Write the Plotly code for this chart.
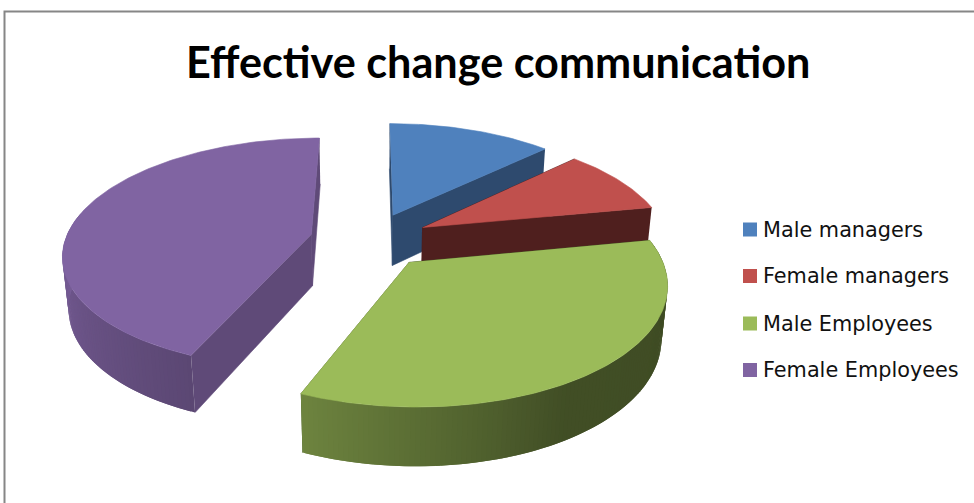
import numpy as np
import plotly.graph_objects as go

# Chart content
title_text = "Effective change communication"
categories = ["Male managers", "Female managers", "Male Employees", "Female Employees"]
values = [12.8, 9.2, 34.3, 43.7]
explosion = 0.245

# Colours per slice
top_colors = ["#4F81BD", "#C0504D", "#9BBB59", "#8064A2"]
cut_colors = ["#2E4A6E", "#4F1F1E", "#4A5A2A", "#5F4A78"]

# 3D pie projection settings, all in screen pixels
cx, cy = 370.0, 240.0
fx, fy = 246.0, 113.6
persp = 0.16
floor_persp = 0.02
thickness = 52.5

legend_x_swatch = 750
legend_x_text = 763
legend_rows = [229.5, 276, 323.5, 370]


def project(u, v, bottom=False):
    """Perspective projection of a point on the pie's top or bottom plane."""
    den = 1 + persp * v + (floor_persp if bottom else 0)
    x = cx + fx * u / den
    y = cy - (fy * v - (thickness if bottom else 0)) / den
    return x, y


def rim_factor(theta):
    """Brightness of the outer wall for a given clockwise angle from the back."""
    return np.interp(theta, [90, 150, 205, 270, 360], [0.40, 0.42, 0.72, 0.93, 0.93])


def shade(hex_color, factor):
    rgb = [int(hex_color[i:i + 2], 16) for i in (1, 3, 5)]
    return "rgb({},{},{})".format(*[round(c * factor) for c in rgb])


def polygon(xs, ys, color, edge=0.6):
    return go.Scatter(
        x=list(xs), y=list(ys), mode="lines", fill="toself", fillcolor=color,
        line=dict(color=color, width=edge), hoverinfo="skip", showlegend=False,
    )


fig = go.Figure()

edges = np.concatenate([[0], np.cumsum(values)]) / np.sum(values) * 360.0
spans = list(zip(edges[:-1], edges[1:]))

# Slices are painted back to front: purple, blue, red, green
for i in [3, 0, 1, 2]:
    start, end = spans[i]
    mid = np.radians((start + end) / 2)
    ou, ov = explosion * np.sin(mid), explosion * np.cos(mid)
    thetas = np.arange(start, end + 1e-6, 1.0)
    thetas = np.append(thetas[thetas < end], end)
    rad = np.radians(thetas)
    us, vs = ou + np.sin(rad), ov + np.cos(rad)

    # Flat cut faces running from the axis out to the rim
    for k in (0, -1):
        pts = [project(us[k], vs[k]), project(ou, ov), project(ou, ov, True), project(us[k], vs[k], True)]
        fig.add_trace(polygon([p[0] for p in pts], [p[1] for p in pts], cut_colors[i]))

    # Outer wall on the viewer's side, as overlapping shaded strips so no seams show
    wall = [j for j in range(len(thetas) - 1) if 80 <= thetas[j] <= 280]
    order = wall if i == 3 else wall[::-1]
    for j in order:
        a, b = (j, min(j + 2, len(thetas) - 1)) if i == 3 else (max(j - 1, 0), j + 1)
        pts = [project(us[a], vs[a]), project(us[b], vs[b]),
               project(us[b], vs[b], True), project(us[a], vs[a], True)]
        color = shade(top_colors[i], rim_factor((thetas[j] + thetas[j + 1]) / 2))
        fig.add_trace(polygon([p[0] for p in pts], [p[1] for p in pts], color, edge=0))

    # Top face
    px, py = project(us, vs)
    ax, ay = project(ou, ov)
    fig.add_trace(polygon(np.append(px, ax), np.append(py, ay), top_colors[i]))

# Legend keys and labels
for name, color, row in zip(categories, top_colors, legend_rows):
    fig.add_trace(go.Scatter(
        x=[legend_x_swatch], y=[row], mode="markers", name=name, showlegend=False,
        marker=dict(symbol="square", size=14, color=color), hoverinfo="name",
    ))
    fig.add_annotation(
        x=legend_x_text, y=row, xref="x", yref="y", text=name, showarrow=False,
        xanchor="left", yanchor="middle", xshift=-2,
        font=dict(family="DejaVu Sans", size=20.8, color="#111111"),
    )

fig.add_annotation(
    x=498, y=61, xref="x", yref="y", text="<b>" + title_text + "</b>", showarrow=False,
    xanchor="center", yanchor="middle",
    font=dict(family="Lato", size=43.2, color="#000000"),
)

fig.update_layout(
    width=974, height=503, margin=dict(l=0, r=0, t=0, b=0),
    paper_bgcolor="white", plot_bgcolor="white", showlegend=False,
    xaxis=dict(range=[0, 974], visible=False, fixedrange=True),
    yaxis=dict(range=[503, 0], visible=False, fixedrange=True),
    shapes=[dict(type="rect", xref="x", yref="y", x0=4.5, y0=11.5, x1=1000, y1=540,
                 line=dict(color="#868686", width=2), layer="below")],
)

fig.write_html("out.html", config=dict(displayModeBar=False))
